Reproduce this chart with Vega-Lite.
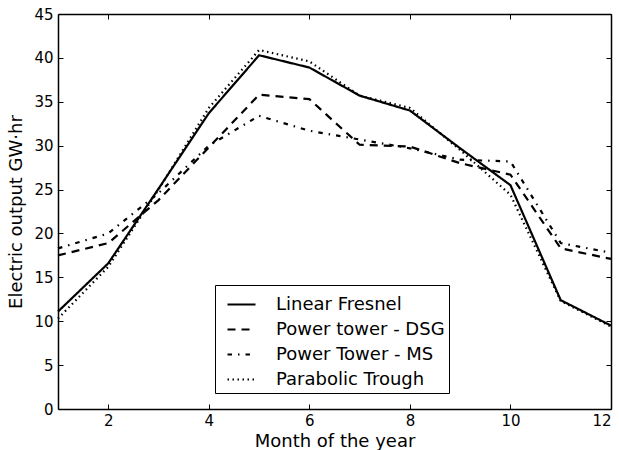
{
  "$schema": "https://vega.github.io/schema/vega-lite/v6.json",
  "width": 553,
  "height": 395,
  "autosize": {"type": "none"},
  "padding": {"left": 58, "top": 14, "right": 8, "bottom": 41},
  "background": "white",
  "config": {
    "font": "DejaVu Sans",
    "view": {"stroke": null},
    "legend": {"labelFontSize": 18, "labelLimit": 0, "labelFont": "DejaVu Sans"},
    "axis": {
      "domainColor": "black",
      "domainWidth": 1.5,
      "tickColor": "black",
      "tickSize": -5,
      "tickWidth": 1,
      "grid": false,
      "labelColor": "black",
      "labelFontSize": 15,
      "labelFont": "DejaVu Sans",
      "titleFont": "DejaVu Sans",
      "titleFontSize": 18,
      "titleFontWeight": "normal",
      "titleColor": "black"
    }
  },
  "data": {
    "values": [
      {"month": 1, "value": 11.1, "series": "Linear Fresnel"},
      {"month": 2, "value": 16.6, "series": "Linear Fresnel"},
      {"month": 3, "value": 25.1, "series": "Linear Fresnel"},
      {"month": 4, "value": 33.7, "series": "Linear Fresnel"},
      {"month": 5, "value": 40.3, "series": "Linear Fresnel"},
      {"month": 6, "value": 38.9, "series": "Linear Fresnel"},
      {"month": 7, "value": 35.7, "series": "Linear Fresnel"},
      {"month": 8, "value": 34.0, "series": "Linear Fresnel"},
      {"month": 9, "value": 29.7, "series": "Linear Fresnel"},
      {"month": 10, "value": 25.5, "series": "Linear Fresnel"},
      {"month": 11, "value": 12.4, "series": "Linear Fresnel"},
      {"month": 12, "value": 9.5, "series": "Linear Fresnel"},
      {"month": 1, "value": 17.5, "series": "Power tower - DSG"},
      {"month": 2, "value": 18.9, "series": "Power tower - DSG"},
      {"month": 3, "value": 23.8, "series": "Power tower - DSG"},
      {"month": 4, "value": 29.8, "series": "Power tower - DSG"},
      {"month": 5, "value": 35.8, "series": "Power tower - DSG"},
      {"month": 6, "value": 35.3, "series": "Power tower - DSG"},
      {"month": 7, "value": 30.1, "series": "Power tower - DSG"},
      {"month": 8, "value": 29.9, "series": "Power tower - DSG"},
      {"month": 9, "value": 28.0, "series": "Power tower - DSG"},
      {"month": 10, "value": 26.7, "series": "Power tower - DSG"},
      {"month": 11, "value": 18.3, "series": "Power tower - DSG"},
      {"month": 12, "value": 17.1, "series": "Power tower - DSG"},
      {"month": 1, "value": 18.3, "series": "Power Tower - MS"},
      {"month": 2, "value": 20.0, "series": "Power Tower - MS"},
      {"month": 3, "value": 24.6, "series": "Power Tower - MS"},
      {"month": 4, "value": 30.0, "series": "Power Tower - MS"},
      {"month": 5, "value": 33.4, "series": "Power Tower - MS"},
      {"month": 6, "value": 31.7, "series": "Power Tower - MS"},
      {"month": 7, "value": 30.7, "series": "Power Tower - MS"},
      {"month": 8, "value": 29.7, "series": "Power Tower - MS"},
      {"month": 9, "value": 28.4, "series": "Power Tower - MS"},
      {"month": 10, "value": 28.2, "series": "Power Tower - MS"},
      {"month": 11, "value": 18.9, "series": "Power Tower - MS"},
      {"month": 12, "value": 17.8, "series": "Power Tower - MS"},
      {"month": 1, "value": 10.3, "series": "Parabolic Trough"},
      {"month": 2, "value": 16.2, "series": "Parabolic Trough"},
      {"month": 3, "value": 25.0, "series": "Parabolic Trough"},
      {"month": 4, "value": 34.3, "series": "Parabolic Trough"},
      {"month": 5, "value": 40.9, "series": "Parabolic Trough"},
      {"month": 6, "value": 39.6, "series": "Parabolic Trough"},
      {"month": 7, "value": 35.7, "series": "Parabolic Trough"},
      {"month": 8, "value": 34.3, "series": "Parabolic Trough"},
      {"month": 9, "value": 29.5, "series": "Parabolic Trough"},
      {"month": 10, "value": 24.4, "series": "Parabolic Trough"},
      {"month": 11, "value": 12.3, "series": "Parabolic Trough"},
      {"month": 12, "value": 9.4, "series": "Parabolic Trough"}
    ]
  },
  "layer": [
    {
      "mark": {"type": "line", "color": "black", "strokeWidth": 2.2},
      "encoding": {
        "x": {
          "field": "month", "type": "quantitative",
          "scale": {"domain": [1, 12], "nice": false, "zero": false},
          "axis": {"values": [2, 4, 6, 8, 10, 12], "title": "Month of the year", "orient": "bottom", "labelPadding": 9, "titlePadding": 4}
        },
        "y": {
          "field": "value", "type": "quantitative",
          "scale": {"domain": [0, 45], "nice": false},
          "axis": {"values": [0, 5, 10, 15, 20, 25, 30, 35, 40, 45], "title": "Electric output GW·hr", "orient": "left", "labelPadding": 10, "titlePadding": 8}
        },
        "strokeDash": {
          "field": "series", "type": "nominal",
          "scale": {
            "domain": ["Linear Fresnel", "Power tower - DSG", "Power Tower - MS", "Parabolic Trough"],
            "range": [[1, 0], [8, 6], [4.5, 6, 1.5, 6], [1.5, 3.5]]
          },
          "legend": {
            "orient": "none",
            "legendX": 157,
            "legendY": 271,
            "title": null,
            "strokeColor": "black",
            "fillColor": "white",
            "padding": 4,
            "labelFontSize": 18,
            "labelLimit": 0,
            "labelColor": "black",
            "labelFont": "DejaVu Sans",
            "labelOffset": 19,
            "symbolOffset": 7,
            "symbolType": "stroke",
            "symbolSize": 784,
            "symbolStrokeWidth": 2.2,
            "symbolStrokeColor": "black",
            "rowPadding": -2,
            "cornerRadius": 0
          }
        },
        "detail": {"field": "series"}
      }
    },
    {
      "mark": {"type": "line", "opacity": 0},
      "encoding": {
        "x": {
          "field": "month", "type": "quantitative",
          "axis": {"values": [2, 4, 6, 8, 10, 12], "orient": "top", "labels": false, "title": null}
        },
        "y": {
          "field": "value", "type": "quantitative",
          "axis": {"values": [0, 5, 10, 15, 20, 25, 30, 35, 40, 45], "orient": "right", "labels": false, "title": null}
        },
        "detail": {"field": "series"}
      }
    }
  ],
  "resolve": {"axis": {"x": "independent", "y": "independent"}}
}
